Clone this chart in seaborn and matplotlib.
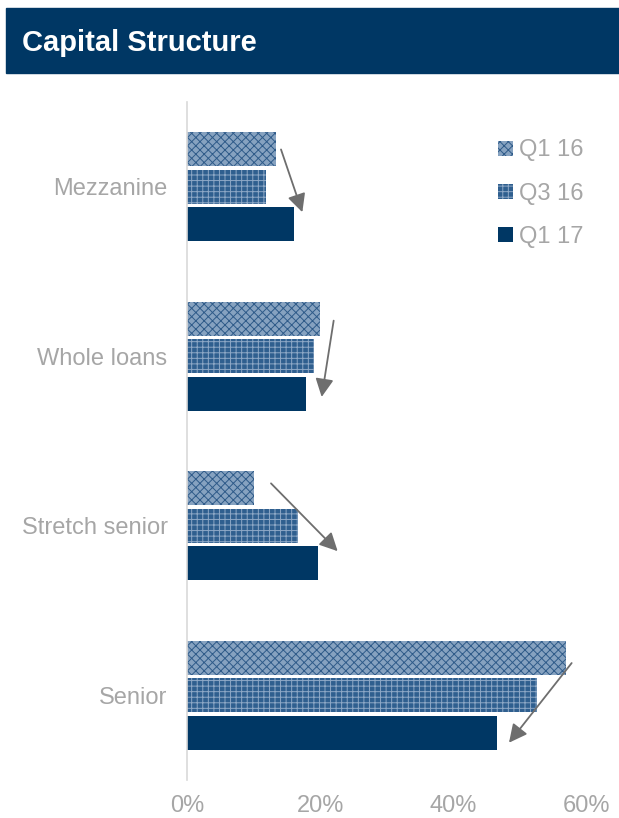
import pandas as pd
import numpy as np
import matplotlib.pyplot as plt
import seaborn as sns
from matplotlib.patches import Rectangle

# values (share of capital structure)
categories = ['Mezzanine', 'Whole loans', 'Stretch senior', 'Senior']
periods = ['Q1 16', 'Q3 16', 'Q1 17']
q1_16 = [0.134, 0.200, 0.101, 0.568]
q3_16 = [0.119, 0.191, 0.167, 0.525]
q1_17 = [0.161, 0.179, 0.197, 0.465]
xticks = [0, 0.2, 0.4, 0.6]
xtick_labels = ['0%', '20%', '40%', '60%']

df = pd.DataFrame({
    'category': categories * 3,
    'period': [p for p in periods for _ in categories],
    'value': q1_16 + q3_16 + q1_17,
})

sns.set_style('white')
plt.rcParams['font.family'] = ['Liberation Sans', 'DejaVu Sans']
plt.rcParams['hatch.linewidth'] = 0.7

navy = '#003764'
grey_txt = '#A6A6A6'

fig = plt.figure(figsize=(6.19, 8.18), dpi=100)
ax = fig.add_axes([187 / 619, 1 - 780 / 818, 400 / 619, 678 / 818])

sns.barplot(data=df, y='category', x='value', hue='period', orient='h',
            order=categories, hue_order=periods, width=0.666, gap=0.1,
            legend=False, ax=ax)

styles = [
    dict(facecolor='#86A2C0', edgecolor='#2F5B89', hatch='xxxx'),
    dict(facecolor='#2F5F8F', edgecolor='#8DA8C6', hatch='+++'),
    dict(facecolor=navy, edgecolor=navy, hatch=None),
]
for cont, st in zip(ax.containers, styles):
    for bar in cont.patches:
        bar.set_facecolor(st['facecolor'])
        bar.set_edgecolor(st['edgecolor'])
        bar.set_hatch(st['hatch'])
        bar.set_linewidth(0)

ax.set_xlim(0, 0.6)
ax.set_ylim(3.5, -0.5)
ax.set_xticks(xticks)
ax.set_xticklabels(xtick_labels)
ax.set_xlabel('')
ax.set_ylabel('')
ax.tick_params(axis='both', length=0, labelsize=17, labelcolor=grey_txt)
ax.tick_params(axis='y', pad=14)
ax.tick_params(axis='x', pad=11)
for s in ['top', 'right', 'bottom']:
    ax.spines[s].set_visible(False)
ax.spines['left'].set_color('#D9D9D9')
ax.spines['left'].set_linewidth(1.2)

# trend arrows (start -> end in data coords)
arrows = [
    ((0.141, -0.22), (0.173, 0.15)),
    ((0.220, 0.79), (0.202, 1.24)),
    ((0.126, 1.75), (0.226, 2.15)),
    ((0.577, 2.81), (0.483, 3.28)),
]
for (x0, y0), (x1, y1) in arrows:
    ax.annotate('', xy=(x1, y1), xytext=(x0, y0),
                arrowprops=dict(arrowstyle='-|>,head_length=1.1,head_width=0.55',
                                color='#6E6E6E', lw=1.3, shrinkA=0, shrinkB=0))

# legend
handles = [cont.patches[0] for cont in ax.containers]
fig.legend(handles, periods, loc='upper left', bbox_to_anchor=(489 / 619, 1 - 130 / 818),
           frameon=False, fontsize=17, labelcolor=grey_txt, handlelength=0.6,
           handleheight=0.6, handletextpad=0.25, labelspacing=0.9, borderaxespad=0)

# header banner
fig.patches.append(Rectangle((6 / 619, 1 - 73 / 818), 613 / 619, 65 / 818,
                             transform=fig.transFigure, color=navy, zorder=0))
fig.text(22 / 619, 1 - 43 / 818, 'Capital Structure', color='white', fontsize=21,
         fontweight='bold', va='center', ha='left')

fig.savefig('out.png', dpi=100)
